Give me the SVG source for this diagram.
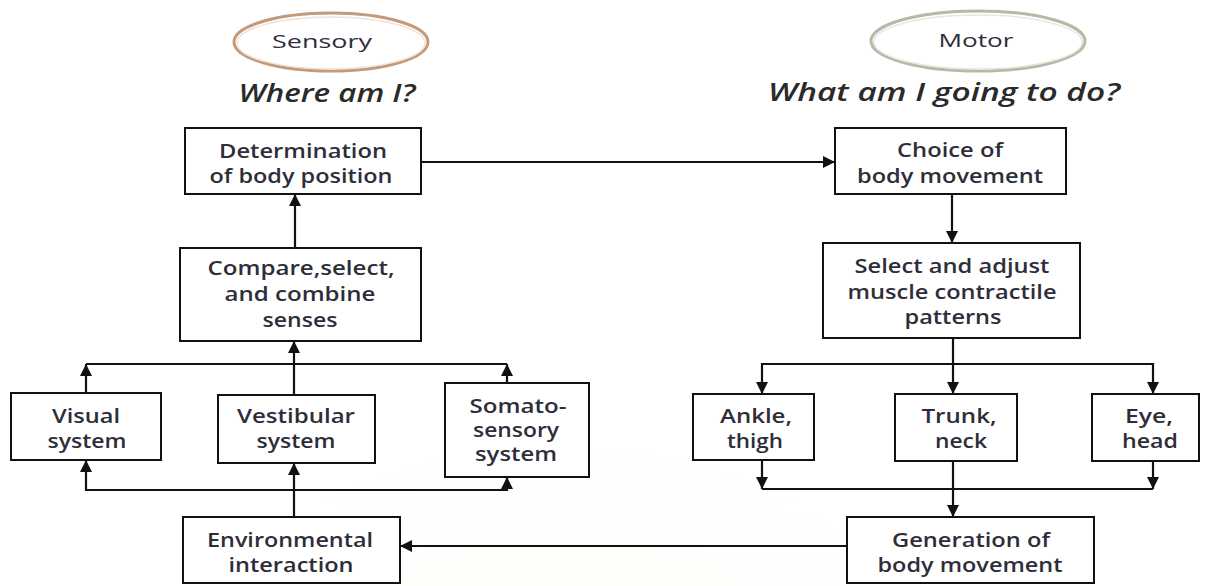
<svg xmlns="http://www.w3.org/2000/svg" width="1206" height="586" viewBox="0 0 1206 586">
<style>
.box{fill:#fff;stroke:#111;stroke-width:2}
.t{font-family:"Open Sans","Noto Sans",sans-serif;font-size:19px;font-weight:600;fill:#2e2e3a;text-anchor:middle}
.h{font-family:"Open Sans","Noto Sans",sans-serif;font-size:26px;font-weight:600;font-style:italic;fill:#2a2a2a;text-anchor:middle}
.c{fill:none;stroke:#111;stroke-width:2.2}
.a{marker-end:url(#arr)}
</style>
<defs>
<marker id="arr" markerUnits="userSpaceOnUse" markerWidth="13" markerHeight="13" refX="12" refY="6.5" orient="auto">
<path d="M0,0.5 L12,6.5 L0,12.5 z" fill="#111"/>
</marker>
<radialGradient id="wm" cx="0.5" cy="1" r="0.8">
<stop offset="0" stop-color="#fbf0cc" stop-opacity="0.9"/>
<stop offset="1" stop-color="#fff" stop-opacity="0"/>
</radialGradient>
</defs>
<rect width="1206" height="586" fill="#fff"/>
<ellipse cx="560" cy="586" rx="290" ry="250" fill="url(#wm)"/>

<g id="sensory">
<ellipse cx="331" cy="42" rx="97" ry="29" fill="#fff" stroke="#c49a7a" stroke-width="3"/>
<ellipse cx="331" cy="43" rx="94" ry="26" fill="none" stroke="#efe2d8" stroke-width="1.5"/>
<text class="t" x="322" y="48" textLength="100" lengthAdjust="spacingAndGlyphs" style="font-weight:400">Sensory</text>
</g>
<g id="motor">
<ellipse cx="978" cy="41" rx="107" ry="30" fill="#fff" stroke="#b8b8a8" stroke-width="3"/>
<ellipse cx="978" cy="42" rx="104" ry="27" fill="none" stroke="#e8e8e0" stroke-width="1.5"/>
<text class="t" x="976" y="47" textLength="75" lengthAdjust="spacingAndGlyphs" style="font-weight:400">Motor</text>
</g>
<g id="q-sensory"><text class="h" x="327" y="102" textLength="177" lengthAdjust="spacingAndGlyphs">Where am I?</text></g>
<g id="q-motor"><text class="h" x="944" y="101" textLength="352" lengthAdjust="spacingAndGlyphs">What am I going to do?</text></g>

<g id="connectors">
<path class="c a" d="M421,162 H835"/>
<path class="c a" d="M952,194 V243"/>
<path class="c a" d="M953,338 V394"/>
<path class="c" d="M762,364 H1153"/>
<path class="c a" d="M762,363 V394"/>
<path class="c a" d="M1153,363 V394"/>
<path class="c a" d="M762,460 V489"/>
<path class="c a" d="M1153,461 V489"/>
<path class="c" d="M762,489 H1153"/>
<path class="c a" d="M953,461 V517"/>
<path class="c a" d="M847,546 H400"/>
<path class="c a" d="M294,517 V463"/>
<path class="c" d="M86,490 H507"/>
<path class="c a" d="M86,491 V460"/>
<path class="c a" d="M507,491 V477"/>
<path class="c a" d="M294,395 V341"/>
<path class="c" d="M86,364 H507"/>
<path class="c a" d="M86,393 V364"/>
<path class="c a" d="M507,383 V364"/>
<path class="c a" d="M295,248 V194"/>
</g>

<g id="determination">
<rect class="box" x="185" y="128" width="236" height="66"/>
<text class="t" x="303" y="158" textLength="168" lengthAdjust="spacingAndGlyphs">Determination</text>
<text class="t" x="301" y="183" textLength="183" lengthAdjust="spacingAndGlyphs">of body position</text>
</g>
<g id="compare">
<rect class="box" x="180" y="248" width="241" height="93"/>
<text class="t" x="301" y="275" textLength="187" lengthAdjust="spacingAndGlyphs">Compare,select,</text>
<text class="t" x="300" y="301" textLength="151" lengthAdjust="spacingAndGlyphs">and combine</text>
<text class="t" x="300" y="327" textLength="75" lengthAdjust="spacingAndGlyphs">senses</text>
</g>
<g id="visual">
<rect class="box" x="11" y="393" width="150" height="67"/>
<text class="t" x="86" y="423" textLength="68" lengthAdjust="spacingAndGlyphs">Visual</text>
<text class="t" x="87" y="448" textLength="79" lengthAdjust="spacingAndGlyphs">system</text>
</g>
<g id="vestibular">
<rect class="box" x="218" y="395" width="157" height="68"/>
<text class="t" x="296" y="423" textLength="118" lengthAdjust="spacingAndGlyphs">Vestibular</text>
<text class="t" x="296" y="448" textLength="79" lengthAdjust="spacingAndGlyphs">system</text>
</g>
<g id="somatosensory">
<rect class="box" x="445" y="383" width="144" height="94"/>
<text class="t" x="518" y="413" textLength="97" lengthAdjust="spacingAndGlyphs">Somato-</text>
<text class="t" x="516" y="437" textLength="86" lengthAdjust="spacingAndGlyphs">sensory</text>
<text class="t" x="516" y="461" textLength="82" lengthAdjust="spacingAndGlyphs">system</text>
</g>
<g id="environmental">
<rect class="box" x="183" y="517" width="217" height="66"/>
<text class="t" x="290" y="547" textLength="166" lengthAdjust="spacingAndGlyphs">Environmental</text>
<text class="t" x="291" y="572" textLength="125" lengthAdjust="spacingAndGlyphs">interaction</text>
</g>
<g id="choice">
<rect class="box" x="835" y="128" width="231" height="66"/>
<text class="t" x="950" y="157" textLength="106" lengthAdjust="spacingAndGlyphs">Choice of</text>
<text class="t" x="950" y="183" textLength="186" lengthAdjust="spacingAndGlyphs">body movement</text>
</g>
<g id="select">
<rect class="box" x="823" y="243" width="257" height="95"/>
<text class="t" x="952" y="273" textLength="195" lengthAdjust="spacingAndGlyphs">Select and adjust</text>
<text class="t" x="952" y="299" textLength="209" lengthAdjust="spacingAndGlyphs">muscle contractile</text>
<text class="t" x="953" y="324" textLength="97" lengthAdjust="spacingAndGlyphs">patterns</text>
</g>
<g id="ankle">
<rect class="box" x="693" y="394" width="121" height="66"/>
<text class="t" x="756" y="423" textLength="72" lengthAdjust="spacingAndGlyphs">Ankle,</text>
<text class="t" x="755" y="448" textLength="56" lengthAdjust="spacingAndGlyphs">thigh</text>
</g>
<g id="trunk">
<rect class="box" x="895" y="394" width="122" height="67"/>
<text class="t" x="959" y="423" textLength="75" lengthAdjust="spacingAndGlyphs">Trunk,</text>
<text class="t" x="961" y="448" textLength="52" lengthAdjust="spacingAndGlyphs">neck</text>
</g>
<g id="eye">
<rect class="box" x="1092" y="394" width="107" height="67"/>
<text class="t" x="1149" y="423" textLength="48" lengthAdjust="spacingAndGlyphs">Eye,</text>
<text class="t" x="1150" y="448" textLength="56" lengthAdjust="spacingAndGlyphs">head</text>
</g>
<g id="generation">
<rect class="box" x="847" y="517" width="247" height="66"/>
<text class="t" x="971" y="547" textLength="158" lengthAdjust="spacingAndGlyphs">Generation of</text>
<text class="t" x="970" y="572" textLength="185" lengthAdjust="spacingAndGlyphs">body movement</text>
</g>
</svg>
